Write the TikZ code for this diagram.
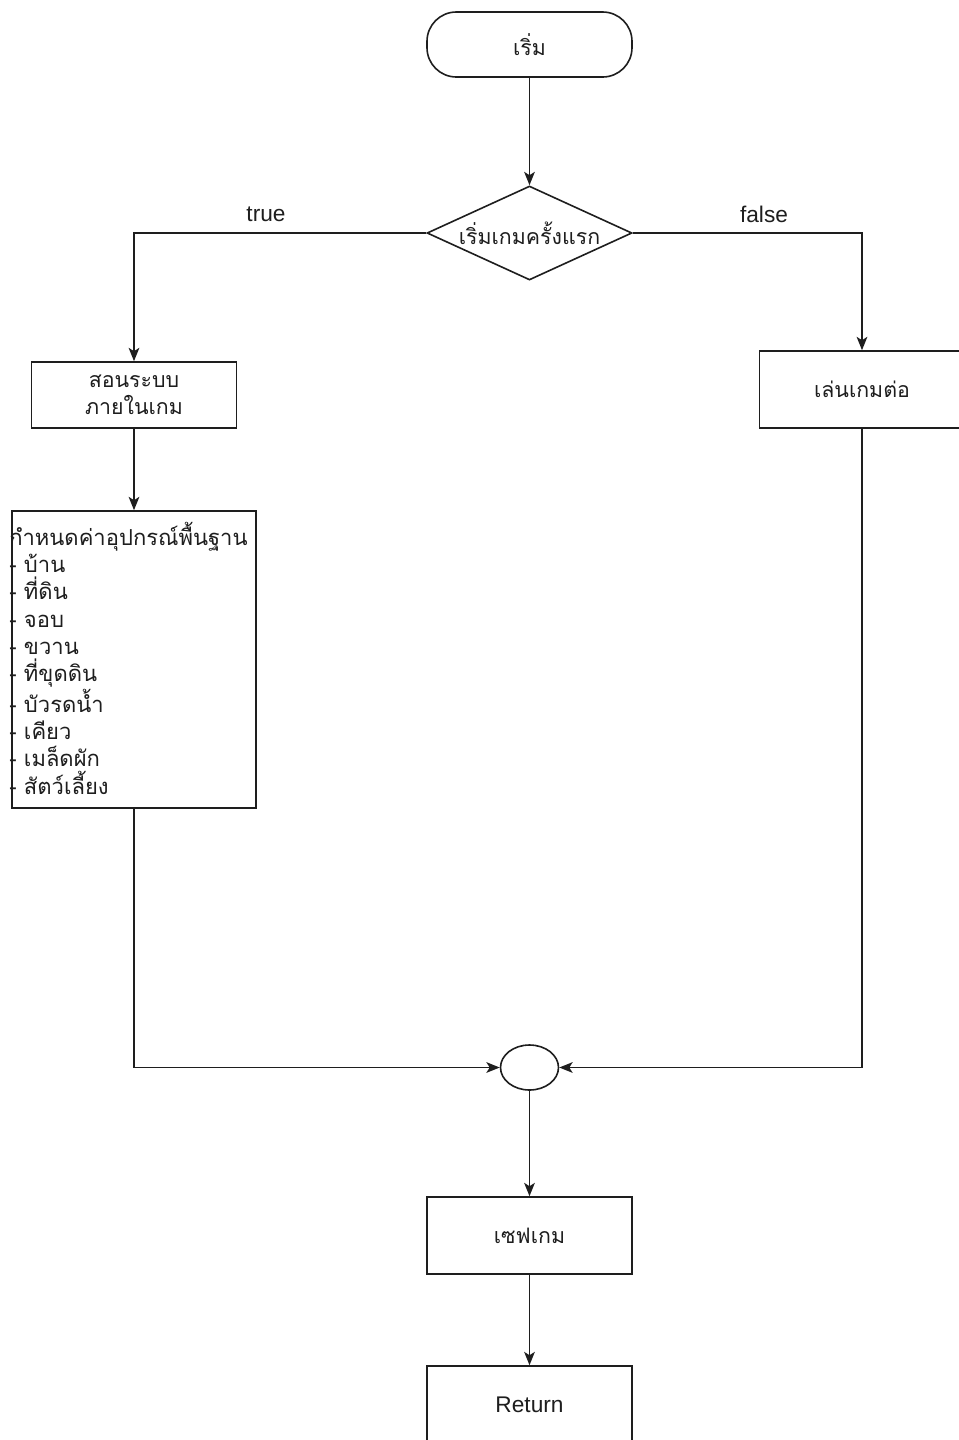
\documentclass[tikz,border=0pt]{standalone}
\usepackage{fontspec}
\setmainfont{Liberation Sans}
\newfontfamily\thaifont[Script=Thai]{Loma}
\usetikzlibrary{shapes.geometric,arrows.meta}
\definecolor{ink}{RGB}{30,30,30}
\begin{document}
\begin{tikzpicture}[x=0.75pt,y=-0.75pt,
  every node/.style={text=ink},
  box/.style={draw=ink,line width=1.2pt,rectangle,inner sep=0pt,minimum width={205*0.75pt},align=center,font=\thaifont\fontsize{16}{20.5}\selectfont},
  term/.style={box,rounded corners=22pt},
  decision/.style={draw=ink,line width=1.2pt,diamond,aspect=2.18,inner sep=0pt,minimum width={205*0.75pt},minimum height={94*0.75pt},font=\thaifont\fontsize{16}{20}\selectfont},
  joint/.style={draw=ink,line width=1.2pt,ellipse,inner sep=0pt,minimum width={58*0.75pt},minimum height={45*0.75pt}},
  lbl/.style={font=\fontsize{17}{20}\selectfont,inner sep=1pt},
  arr/.style={draw=ink,line width=1.2pt,-{Stealth[length=10pt,width=8pt,inset=2.5pt]}}
]
\useasboundingbox (0,0) rectangle (958,1440);
\fill[white] (0,0) rectangle (958,1440);

\node[term,minimum height={65*0.75pt}] (start) at (529.5,44.5) {เริ่ม};
\node[decision] (dec) at (529.5,233) {\phantom{i}};
\node (dectext) at (529.5,233) {\thaifont\fontsize{16}{20}\selectfont เริ่มเกมครั้งแรก};
\node[box,minimum height={66*0.75pt}] (teach) at (134,395) {สอนระบบ\\ภายในเกม};
\node[box,minimum height={77*0.75pt}] (cont) at (862,389.5) {เล่นเกมต่อ};
\node[draw=ink,line width=1.2pt,rectangle,inner sep=0pt,minimum width={244*0.75pt},minimum height={297*0.75pt}] (setup) at (134,659.5) {};
\node[anchor=west,align=left,inner sep=0pt,font=\thaifont\fontsize{16.5}{20.5}\selectfont] (setuptext) at (9,658) {กำหนดค่าอุปกรณ์พื้นฐาน\\- บ้าน\\- ที่ดิน\\- จอบ\\- ขวาน\\- ที่ขุดดิน\\- บัวรดน้ำ\\- เคียว\\- เมล็ดผัก\\- สัตว์เลี้ยง};
\node[joint] (merge) at (529.5,1067.5) {};
\node[box,minimum height={77*0.75pt}] (save) at (529.5,1235.5) {เซฟเกม};
\node[box,minimum height={77*0.75pt},font=\fontsize{17}{20}\selectfont] (ret) at (529.5,1404.5) {Return};

\node[lbl] (ltrue) at (266,214) {true};
\node[lbl] (lfalse) at (764,214) {false};

\draw[arr] (start) -- (dec);
\draw[arr] (dec.west) -| (teach.north);
\draw[arr] (dec.east) -| (cont.north);
\draw[arr] (teach) -- (setup);
\draw[arr] (setup.south) |- (merge.west);
\draw[arr] (cont.south) |- (merge.east);
\draw[arr] (merge) -- (save);
\draw[arr] (save) -- (ret);
\end{tikzpicture}
\end{document}
